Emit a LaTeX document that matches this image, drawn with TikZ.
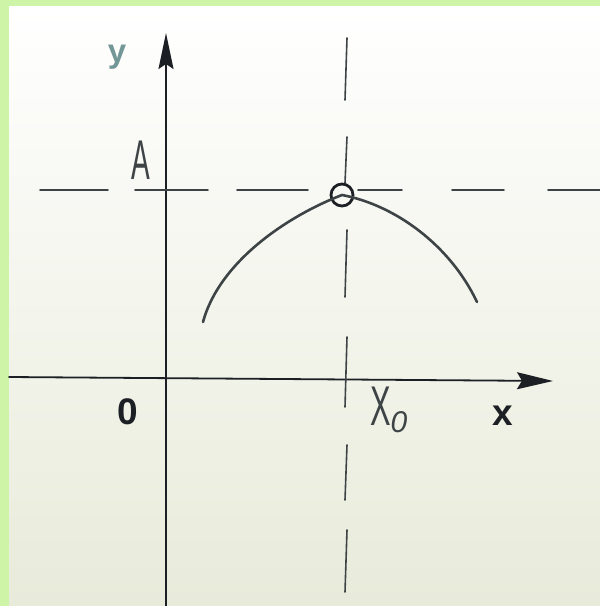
\documentclass[tikz,border=0pt]{standalone}
\usepackage{fontspec}
\setmainfont{Liberation Sans}
\usetikzlibrary{arrows.meta}
\definecolor{frame}{RGB}{206,244,168}
\definecolor{paper}{RGB}{232,235,218}
\definecolor{ink}{RGB}{28,32,36}
\definecolor{pencil}{RGB}{62,68,70}
\definecolor{pale}{RGB}{115,150,150}
\tikzset{
  axisline/.style={ink, line width=1.8pt},
  guideline/.style={pencil, line width=1.6pt},
  curveline/.style={pencil, line width=2.6pt},
  lbl/.style={ink, font=\fontsize{37}{37}\bfseries\selectfont, inner sep=0pt},
  hand/.style={pencil, font=\fontsize{56}{56}\selectfont, inner sep=0pt}
}
\begin{document}
\begin{tikzpicture}[x=1pt,y=-1pt, line cap=round]
\useasboundingbox (0,0) rectangle (600,606);
\fill[frame] (0,0) rectangle (600,606);
\shade[top color=white, bottom color=paper] (9,6) rectangle (600,606);
% axes
\coordinate (ystart) at (166,606);
\coordinate (yend) at (166,33);
\coordinate (xstart) at (9,377);
\coordinate (xend) at (553,381);
\draw[axisline, -{Stealth[length=36pt,width=15pt,inset=5pt]}] (ystart) -- (yend);
\draw[axisline, -{Stealth[length=36pt,width=17pt,inset=5pt]}] (xstart) -- (xend);
% dashed guides through the peak
\foreach \a/\b in {40/108,135/208,237/308,358/402,452/504,548/600}
  \draw[guideline] (\a,190) -- (\b,190);
\foreach \a/\b in {38/100,137/183,230/297,337/407,445/500,530/592}
  \draw[guideline] (347,\a) -- (345,\b);
% curve and peak
\node[draw=ink, circle, line width=2.8pt, minimum size=22pt, inner sep=0pt] (peak) at (342,195) {};
\coordinate (left) at (203,322);
\coordinate (right) at (477,302);
\draw[curveline] (left) .. controls (220,260) and (290,215) .. (peak.center)
  .. controls (395,205) and (450,245) .. (right);
% labels
\node[lbl, text=pale, font=\fontsize{33}{33}\bfseries\selectfont] (ylabel) at (117,57) {y};
\node[hand] (alabel) at (141,160) {\scalebox{0.5}[1]{A}};
\node[lbl] (zero) at (128,412) {0};
\node[lbl] (xlabel) at (503,416) {x};
\node[hand, anchor=west] (xnaught) at (370,410) {\scalebox{0.55}[1]{X}\raisebox{-0.12em}{\fontsize{30}{30}\selectfont\itshape 0}};
\end{tikzpicture}
\end{document}
